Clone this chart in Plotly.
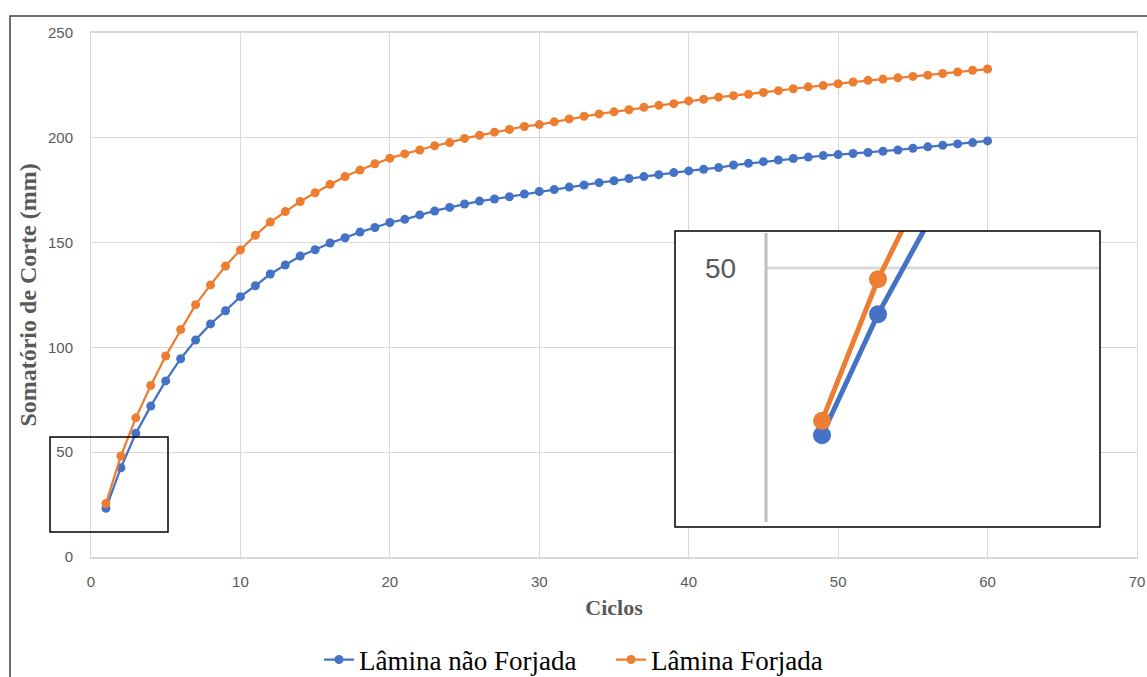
import plotly.graph_objects as go

# ---------------- data ----------------
ciclos = list(range(1, 61))

lamina_nao_forjada = [
    23.2, 42.6, 59.0, 72.0, 84.0, 94.6, 103.5, 111.2, 117.5, 124.2,
    129.4, 135.0, 139.3, 143.6, 146.6, 149.8, 152.3, 155.0, 157.2, 159.6,
    161.1, 163.2, 165.1, 166.8, 168.4, 169.8, 170.8, 171.9, 173.2, 174.4,
    175.3, 176.5, 177.5, 178.6, 179.5, 180.6, 181.5, 182.4, 183.4, 184.2,
    185.0, 185.8, 187.0, 187.8, 188.6, 189.4, 190.1, 190.8, 191.5, 192.0,
    192.5, 193.0, 193.6, 194.2, 195.0, 195.7, 196.4, 197.1, 197.7, 198.5,
]

lamina_forjada = [
    25.5, 48.2, 66.4, 81.8, 95.9, 108.5, 120.4, 129.8, 138.8, 146.5,
    153.5, 159.8, 164.8, 169.6, 173.8, 177.8, 181.5, 184.6, 187.6, 190.3,
    192.3, 194.2, 196.2, 197.7, 199.7, 201.2, 202.7, 204.0, 205.4, 206.3,
    207.6, 209.0, 210.3, 211.4, 212.4, 213.4, 214.6, 215.5, 216.3, 217.6,
    218.4, 219.4, 220.1, 220.8, 221.6, 222.5, 223.4, 224.3, 224.9, 225.8,
    226.6, 227.4, 228.0, 228.6, 229.3, 229.9, 230.7, 231.4, 232.2, 232.8,
]

x_ticks = [0, 10, 20, 30, 40, 50, 60, 70]
y_ticks = [0, 50, 100, 150, 200, 250]
inset_y_tick = 50

series_names = ["Lâmina não Forjada", "Lâmina Forjada"]
x_title = "Ciclos"
y_title = "Somatório de Corte (mm)"

# ---------------- style ----------------
BLUE = "#4472C4"
ORANGE = "#ED7D31"
GRID = "#d9d9d9"
TICK_COLOR = "#595959"

W, H = 1147, 677
L, R, T, B = 91, 1137, 33, 557  # plot area in pixels


def px_x(p):
    return (p - L) / (R - L)


def px_y(p):
    return (B - p) / (B - T)


fig = go.Figure()

# main series
for name, vals, col in [(series_names[0], lamina_nao_forjada, BLUE),
                        (series_names[1], lamina_forjada, ORANGE)]:
    fig.add_trace(go.Scatter(
        x=ciclos, y=vals, name=name, mode="lines+markers",
        line=dict(color=col, width=2.25),
        marker=dict(color=col, size=9),
        xaxis="x", yaxis="y",
    ))

# inset ranges
ix_range = [-1.625, 5.964]
iy_range = [8.49, 55.93]

# inset white background (covers main chart under the inset)
fig.add_trace(go.Scatter(
    x=[-10, 20, 20, -10, -10], y=[-10, -10, 300, 300, -10],
    mode="lines", fill="toself", fillcolor="white",
    line=dict(width=0, color="white"), hoverinfo="skip", showlegend=False,
    xaxis="x2", yaxis="y2",
))
# inset gridline at 50 and axis line at x=0
fig.add_trace(go.Scatter(
    x=[0, 20], y=[inset_y_tick, inset_y_tick], mode="lines",
    line=dict(color=GRID, width=3), hoverinfo="skip", showlegend=False,
    xaxis="x2", yaxis="y2",
))
fig.add_trace(go.Scatter(
    x=[0, 0], y=[9.3, 55.6], mode="lines",
    line=dict(color="#bfbfbf", width=3), hoverinfo="skip", showlegend=False,
    xaxis="x2", yaxis="y2",
))
for vals, col in [(lamina_nao_forjada, BLUE), (lamina_forjada, ORANGE)]:
    fig.add_trace(go.Scatter(
        x=ciclos, y=vals, mode="lines+markers",
        line=dict(color=col, width=5),
        marker=dict(color=col, size=18),
        hoverinfo="skip", showlegend=False,
        xaxis="x2", yaxis="y2",
    ))

tick_font = dict(family="Liberation Sans, Arial, sans-serif", size=15, color=TICK_COLOR)
title_font = dict(family="Liberation Serif, Times New Roman, serif", size=22, color=TICK_COLOR)

fig.update_layout(
    width=W, height=H,
    margin=dict(l=L, r=W - R, t=T, b=H - B, autoexpand=False),
    paper_bgcolor="white", plot_bgcolor="white",
    showlegend=True,
    legend=dict(
        orientation="h", x=px_x(319), xanchor="left",
        y=px_y(660), yanchor="middle",
        font=dict(family="Liberation Serif, Times New Roman, serif", size=27, color="black"),
        bgcolor="rgba(0,0,0,0)", itemwidth=30, tracegroupgap=0,
        entrywidth=247, entrywidthmode="pixels",
    ),
    xaxis=dict(
        range=[0, 70], tickvals=x_ticks, showgrid=True, gridcolor=GRID, gridwidth=1,
        showline=True, linecolor=GRID, linewidth=1.5, mirror=True, zeroline=False,
        ticks="", tickfont=tick_font, ticklabelstandoff=10,
        title=dict(text=f"<b>{x_title}</b>", font=title_font, standoff=11),
        domain=[0, 1],
    ),
    yaxis=dict(
        range=[0, 250], tickvals=y_ticks, showgrid=True, gridcolor=GRID, gridwidth=1,
        showline=True, linecolor=GRID, linewidth=1, mirror=True, zeroline=False,
        ticks="", tickfont=tick_font, ticklabelstandoff=14,
        title=dict(text=f"<b>{y_title}</b>", font=dict(title_font, size=24), standoff=4),
        domain=[0, 1],
    ),
    xaxis2=dict(
        domain=[px_x(675), px_x(1100)], range=ix_range, visible=False,
        anchor="y2", fixedrange=True,
    ),
    yaxis2=dict(
        domain=[px_y(527), px_y(231)], range=iy_range, visible=False,
        anchor="x2", fixedrange=True,
    ),
    annotations=[
        dict(text=str(inset_y_tick), x=-0.82, y=inset_y_tick, xref="x2", yref="y2",
             showarrow=False, xanchor="center", yanchor="middle",
             font=dict(family="Liberation Sans, Arial, sans-serif", size=28, color=TICK_COLOR)),
    ],
    shapes=[
        # outer frame of the figure
        dict(type="rect", xref="paper", yref="paper",
             x0=px_x(10), x1=px_x(1160), y0=px_y(700), y1=px_y(16),
             line=dict(color="#404040", width=1.5), layer="above"),
        # small zoom box near origin
        dict(type="rect", xref="paper", yref="paper",
             x0=px_x(50), x1=px_x(168), y0=px_y(532), y1=px_y(437),
             line=dict(color="black", width=1.5), layer="above"),
        # inset frame
        dict(type="rect", xref="paper", yref="paper",
             x0=px_x(675), x1=px_x(1100), y0=px_y(527), y1=px_y(231),
             line=dict(color="black", width=1.5), layer="above"),
    ],
)

fig.write_html(
    "out.html",
    config={"displayModeBar": False},
    post_script="document.body.style.margin='0';document.body.style.padding='0';",
)
